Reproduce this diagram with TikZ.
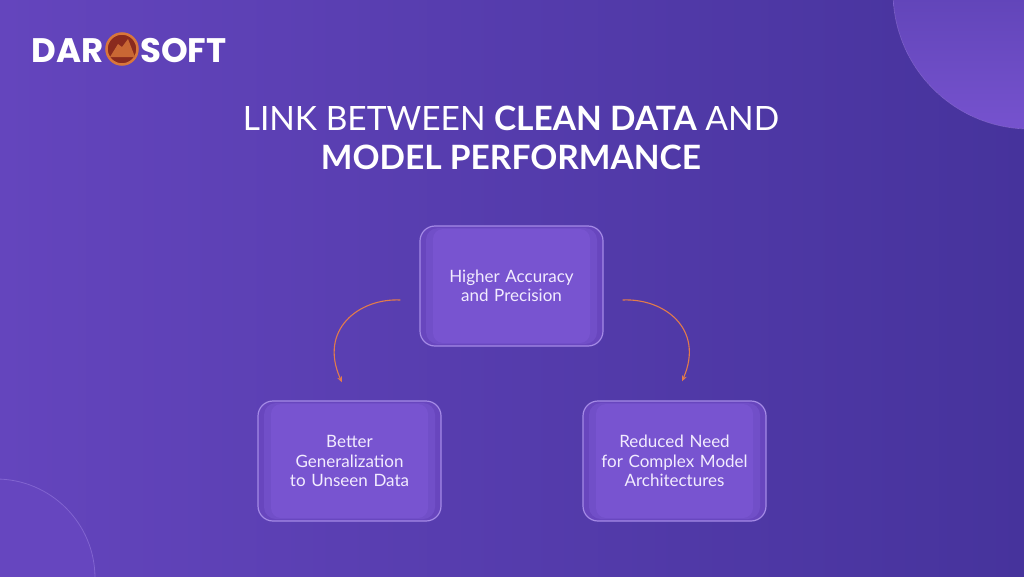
\documentclass[tikz,border=0pt]{standalone}
\usepackage{fontspec}
\setmainfont{Lato}
\newfontfamily\logofont{Poppins}
\usepackage{tikz}
\usetikzlibrary{arrows.meta}
\definecolor{bgleft}{HTML}{6445BD}
\definecolor{bgright}{HTML}{46339C}
\definecolor{boxdark}{HTML}{6846BE}
\definecolor{boxmid}{HTML}{714FC8}
\definecolor{boxlight}{HTML}{7854D0}
\definecolor{boxedge}{HTML}{A48AE6}
\definecolor{arcorange}{HTML}{E27B4B}
\definecolor{boxtext}{HTML}{F2ECFF}
\definecolor{ringorange}{HTML}{D9763A}
\definecolor{coinred}{HTML}{8A2A1E}
\tikzstyle{box} = [rectangle, rounded corners=15pt, minimum width=183pt, minimum height=120pt, text width=160pt, align=center, draw=boxedge, line width=1.2pt, fill=boxdark, text=boxtext, font=\fontsize{17}{19.5}\selectfont,
  path picture={
    \fill[boxmid, rounded corners=12pt] ([xshift=6pt,yshift=-2pt]path picture bounding box.north west) rectangle ([xshift=-6pt,yshift=2pt]path picture bounding box.south east);
    \fill[boxlight, rounded corners=10pt] ([xshift=13pt,yshift=-3pt]path picture bounding box.north west) rectangle ([xshift=-13pt,yshift=3pt]path picture bounding box.south east);}]
\tikzstyle{arrow} = [arcorange, line width=1.1pt, -{Stealth[length=6pt,width=5pt]}]

\begin{document}
\begin{tikzpicture}[x=1pt, y=-1pt, node distance=175pt]
\useasboundingbox (0,0) rectangle (1024,576);
\begin{scope}
\clip (0,0) rectangle (1024,576);
% background and corner discs
\fill[left color=bgleft, right color=bgright] (0,0) rectangle (1024,576);
\fill[shading=axis, shading angle=45, top color=bgright!80!bgleft, bottom color=boxlight!90!bgleft] (1030,-8) circle (137);
\draw[boxedge!40!bgleft, line width=0.6pt] (1030,-8) circle (137);
\fill[bgleft!90!boxlight] (-4,578) circle (99);
\draw[boxedge!45!bgleft, line width=0.8pt] (-4,578) circle (99);
\end{scope}

% logo
\node (dar) [text=white, font=\logofont\bfseries\fontsize{34}{34}\selectfont, anchor=east, inner sep=0pt] at (104,51) {DAR};
\node (coin) [circle, minimum size=31pt, inner sep=0pt, draw=ringorange, line width=2.5pt, fill=coinred] at (122,49) {};
\fill[ringorange!80!coinred] (110,57) -- (118,44) -- (122,47) -- (128,39) -- (135,57) -- cycle;
\node (soft) [text=white, font=\logofont\bfseries\fontsize{34}{34}\selectfont, anchor=west, inner sep=0pt] at (140,51) {SOFT};

% title
\node (title) [text=white, align=center, font=\fontsize{33.5}{39}\selectfont] at (511,138) {LINK BETWEEN \textbf{CLEAN DATA} AND\\\textbf{MODEL PERFORMANCE}};

% boxes
\node (acc) [box] at (511.5,286) {Higher Accuracy\\and Precision};
\node (gen) [box, below of=acc, xshift=-162pt] {Better\\Generalization\\to Unseen Data};
\node (red) [box, below of=acc, xshift=163pt] {Reduced Need\\for Complex Model\\Architectures};

\draw [arrow] ([xshift=-19pt,yshift=-14pt]acc.west) .. controls +(-41,-2) and +(-24,-53) .. ([xshift=-7.5pt,yshift=18pt]gen.north);
\draw [arrow] ([xshift=19pt,yshift=-14pt]acc.east) .. controls +(41,-2) and +(23,-53) .. ([xshift=7.5pt,yshift=19pt]red.north);
\end{tikzpicture}
\end{document}
